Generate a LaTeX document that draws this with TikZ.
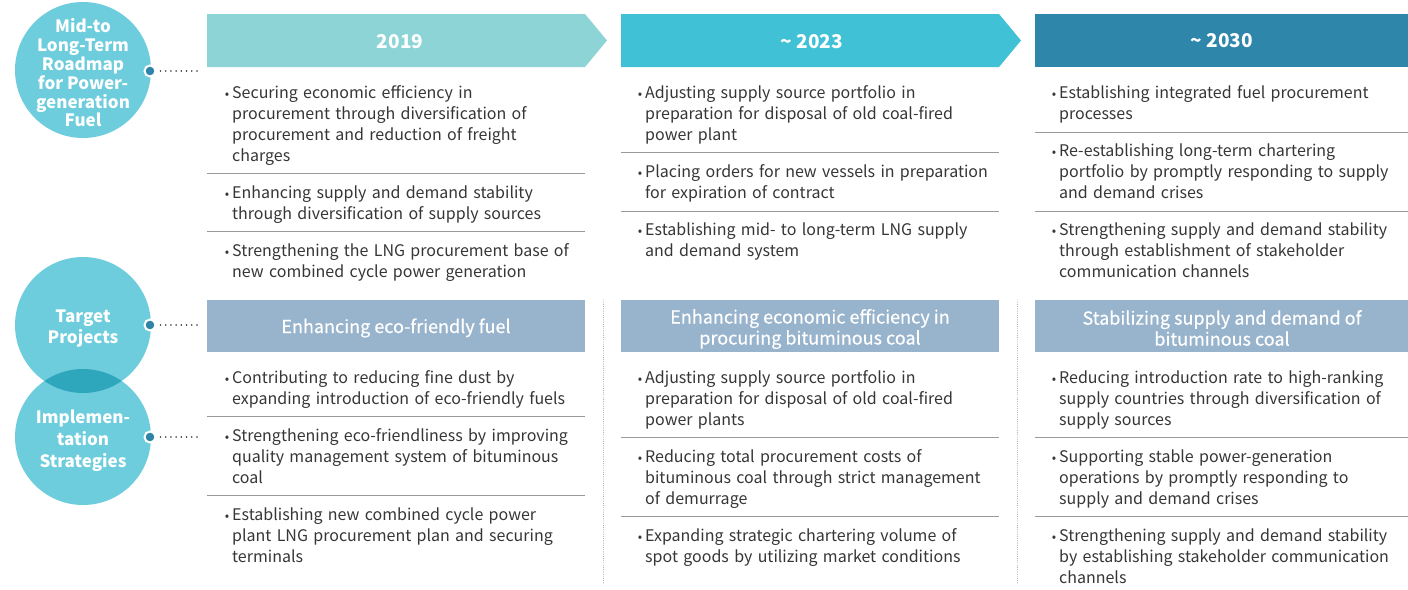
\documentclass[tikz,border=0pt]{standalone}
\usepackage{fontspec}
\setmainfont{Noto Sans CJK KR}
\newfontfamily\medfont{Noto Sans CJK KR}[FakeBold=0.4]
\definecolor{cA}{HTML}{8DD4D6}
\definecolor{cB}{HTML}{41C1D6}
\definecolor{cC}{HTML}{2E86AB}
\definecolor{tgt}{HTML}{98B3CC}
\definecolor{circ}{HTML}{6DCDDC}
\definecolor{ovl}{HTML}{2EA6BC}
\definecolor{dotc}{HTML}{2E84A8}
\definecolor{txt}{HTML}{363636}
\definecolor{sepc}{HTML}{9A9A9A}
\newcommand{\bul}{\llap{{\fontsize{13}{13}\selectfont\textbullet}\hspace{3pt}}}
\begin{document}
\begin{tikzpicture}[x=1pt,y=-1pt,
  item/.style={anchor=base west, inner sep=0pt, text width=420pt, align=left,
    font=\fontsize{16}{21}\selectfont, text=txt},
  hdr/.style={inner sep=0pt, text=white, font=\bfseries\fontsize{19}{22}\selectfont},
  tgthdr/.style={inner sep=0pt, text=white, align=center, font=\medfont\fontsize{18}{21}\selectfont},
  bigcirc/.style={circle, minimum size=136pt, inner sep=0pt, fill=circ},
  ctext/.style={text=white, align=center, inner sep=0pt},
  knob/.style={circle, minimum size=11pt, inner sep=0pt, fill=dotc, draw=white, line width=2pt},
  link/.style={draw=txt, line width=1.6pt, dash pattern=on 0.01pt off 5.2pt, line cap=round},
  vsep/.style={draw=sepc, line width=0.9pt, dash pattern=on 0.01pt off 2.2pt, line cap=round},
  hsep/.style={draw=sepc, line width=0.9pt}]
\useasboundingbox (0,0) rectangle (1408,589);
\fill[white] (0,0) rectangle (1408,589);

% circles
\node[bigcirc] (c1) at (83,70) {};
\node[bigcirc] (c2) at (83,325) {};
\node[bigcirc] (c3) at (83,437) {};
\begin{scope}
  \clip (83,325) circle (68);
  \fill[ovl] (83,437) circle (68);
\end{scope}
\node[ctext, font=\bfseries\fontsize{17}{18.8}\selectfont] (t1) at (83,73) {Mid-to\\Long-Term\\Roadmap\\for Power-\\generation\\Fuel};
\node[ctext, font=\bfseries\fontsize{17}{21}\selectfont] (t2) at (83,329) {Target\\Projects};
\node[ctext, font=\bfseries\fontsize{17}{22}\selectfont] (t3) at (83,441) {Implemen-\\tation\\Strategies};

% knobs and links
\node[knob] (k1) at (150,71) {};
\node[knob] (k2) at (150,325) {};
\node[knob] (k3) at (150,437) {};
\coordinate (e1) at (200,71);
\coordinate (e2) at (200,325);
\coordinate (e3) at (200,437);
\draw[link] ([xshift=4]k1.east) -- (e1);
\draw[link] ([xshift=4]k2.east) -- (e2);
\draw[link] ([xshift=4]k3.east) -- (e3);

% headers
\fill[cA] (207,14) -- (585,14) -- (607,40.5) -- (585,67) -- (207,67) -- cycle;
\fill[cB] (621,14) -- (999,14) -- (1021,40.5) -- (999,67) -- (621,67) -- cycle;
\fill[cC] (1035,14) rectangle (1408,67);
\node[hdr] (h1) at (400,42) {2019};
\node[hdr] (h2) at (812,42) {\textasciitilde\ 2023};
\node[hdr] (h3) at (1222,41) {\textasciitilde\ 2030};

% column 1 top
\node[item] (a1) at (232,98) {\bul Securing economic efficiency in\\procurement through diversification of\\procurement and reduction of freight\\charges};
\node[item] (a2) at (232,198) {\bul Enhancing supply and demand stability\\through diversification of supply sources};
\node[item] (a3) at (232,256) {\bul Strengthening the LNG procurement base of\\new combined cycle power generation};
\draw[hsep] (207,173) -- (585,173);
\draw[hsep] (207,231) -- (585,231);

% column 2 top
\node[item] (b1) at (645,98) {\bul Adjusting supply source portfolio in\\preparation for disposal of old coal-fired\\power plant};
\node[item] (b2) at (645,177) {\bul Placing orders for new vessels in preparation\\for expiration of contract};
\node[item] (b3) at (645,235) {\bul Establishing mid- to long-term LNG supply\\and demand system};
\draw[hsep] (621,152) -- (999,152);
\draw[hsep] (621,211) -- (999,211);

% column 3 top
\node[item] (d1) at (1059,98) {\bul Establishing integrated fuel procurement\\processes};
\node[item] (d2) at (1059,156) {\bul Re-establishing long-term chartering\\portfolio by promptly responding to supply\\and demand crises};
\node[item] (d3) at (1059,235) {\bul Strengthening supply and demand stability\\through establishment of stakeholder\\communication channels};
\draw[hsep] (1035,132) -- (1408,132);
\draw[hsep] (1035,211) -- (1408,211);

% target headers
\fill[tgt] (207,300) rectangle (585,352);
\fill[tgt] (621,300) rectangle (999,352);
\fill[tgt] (1035,300) rectangle (1408,352);
\node[tgthdr] (g1) at (396,328) {Enhancing eco-friendly fuel};
\node[tgthdr] (g2) at (810,329) {Enhancing economic efficiency in\\procuring bituminous coal};
\node[tgthdr] (g3) at (1222,328) {Stabilizing supply and demand of\\bituminous coal};

% vertical dotted separators
\coordinate (v1a) at (603,300); \coordinate (v1b) at (603,585);
\coordinate (v2a) at (1017,300); \coordinate (v2b) at (1017,585);
\draw[vsep] (v1a) -- (v1b);
\draw[vsep] (v2a) -- (v2b);

% column 1 bottom
\node[item] (p1) at (232,383) {\bul Contributing to reducing fine dust by\\expanding introduction of eco-friendly fuels};
\node[item] (p2) at (232,441) {\bul Strengthening eco-friendliness by improving\\quality management system of bituminous\\coal};
\node[item] (p3) at (232,520) {\bul Establishing new combined cycle power\\plant LNG procurement plan and securing\\terminals};
\draw[hsep] (207,416) -- (585,416);
\draw[hsep] (207,495) -- (585,495);

% column 2 bottom
\node[item] (q1) at (645,383) {\bul Adjusting supply source portfolio in\\preparation for disposal of old coal-fired\\power plants};
\node[item] (q2) at (645,462) {\bul Reducing total procurement costs of\\bituminous coal through strict management\\of demurrage};
\node[item] (q3) at (645,541) {\bul Expanding strategic chartering volume of\\spot goods by utilizing market conditions};
\draw[hsep] (621,437) -- (999,437);
\draw[hsep] (621,516) -- (999,516);

% column 3 bottom
\node[item] (r1) at (1059,383) {\bul Reducing introduction rate to high-ranking\\supply countries through diversification of\\supply sources};
\node[item] (r2) at (1059,462) {\bul Supporting stable power-generation\\operations by promptly responding to\\supply and demand crises};
\node[item] (r3) at (1059,541) {\bul Strengthening supply and demand stability\\by establishing stakeholder communication\\channels};
\draw[hsep] (1035,437) -- (1408,437);
\draw[hsep] (1035,516) -- (1408,516);
\end{tikzpicture}
\end{document}
